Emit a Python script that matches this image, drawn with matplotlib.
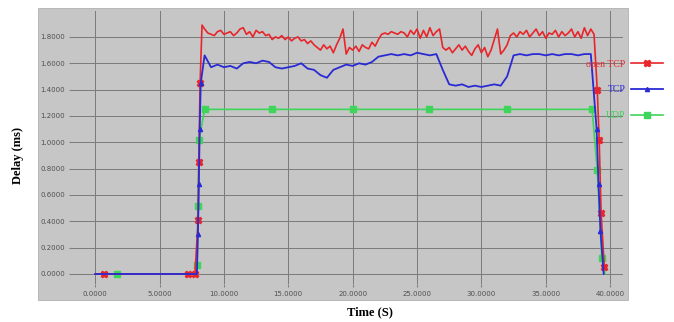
import numpy as np
import matplotlib.pyplot as plt
from matplotlib.patches import Rectangle

# open TCP (red)
red_rise_t = [0.0, 0.7, 7.2, 7.75, 8.0, 8.05, 8.15, 8.3]
red_rise_v = [0.0, 0.0, 0.0, 0.0, 0.41, 0.85, 1.45, 1.89]
red_mid_v = [1.86, 1.83, 1.82, 1.81, 1.84, 1.85, 1.82, 1.83,
             1.84, 1.81, 1.83, 1.86, 1.87, 1.82, 1.84, 1.80,
             1.85, 1.83, 1.84, 1.81, 1.82, 1.78, 1.80, 1.79,
             1.81, 1.78, 1.80, 1.77, 1.79, 1.80, 1.77, 1.78,
             1.75, 1.77, 1.74, 1.72, 1.70, 1.74, 1.71, 1.73,
             1.68, 1.74, 1.79, 1.86, 1.67, 1.72, 1.70, 1.73,
             1.69, 1.74, 1.72, 1.71, 1.76, 1.73, 1.78, 1.82,
             1.83, 1.82, 1.84, 1.83, 1.82, 1.84, 1.83, 1.80,
             1.85, 1.82, 1.86, 1.79, 1.85, 1.80, 1.87, 1.81,
             1.84, 1.86, 1.72, 1.70, 1.72, 1.68, 1.71, 1.74,
             1.70, 1.73, 1.69, 1.66, 1.71, 1.74, 1.68, 1.72,
             1.65, 1.70, 1.78, 1.86, 1.67, 1.70, 1.74, 1.81,
             1.83, 1.80, 1.84, 1.82, 1.85, 1.80, 1.83, 1.86,
             1.81, 1.84, 1.79, 1.83, 1.82, 1.85, 1.80, 1.84,
             1.81, 1.83, 1.86, 1.80, 1.84, 1.79, 1.87, 1.81,
             1.86, 1.82]
red_mid_t = list(8.5 + 0.25 * np.arange(len(red_mid_v)))
red_fall_t = [39.0, 39.15, 39.3, 39.55]
red_fall_v = [1.40, 1.02, 0.46, 0.05]

# TCP (blue)
blue_rise_t = [0.0, 7.9, 7.98, 8.05, 8.12, 8.2]
blue_rise_v = [0.0, 0.0, 0.30, 0.68, 1.10, 1.45]
blue_mid_v = [1.66, 1.57, 1.59, 1.57, 1.58, 1.56, 1.60, 1.61, 1.60, 1.62,
              1.61, 1.57, 1.56, 1.57, 1.58, 1.60, 1.56, 1.55, 1.51, 1.49,
              1.55, 1.57, 1.59, 1.58, 1.60, 1.59, 1.61, 1.65, 1.66, 1.67,
              1.66, 1.67, 1.66, 1.68, 1.67, 1.66, 1.67, 1.55, 1.44, 1.43,
              1.44, 1.42, 1.43, 1.42, 1.43, 1.44, 1.43, 1.50, 1.66, 1.67,
              1.66, 1.67, 1.67, 1.66, 1.67, 1.66, 1.67, 1.67, 1.66, 1.67,
              1.67]
blue_mid_t = list(8.5 + 0.5 * np.arange(len(blue_mid_v)))
blue_fall_t = [38.95, 39.1, 39.25, 39.5]
blue_fall_v = [1.10, 0.68, 0.33, 0.0]

# UDP (green)
green_t = [0.0, 1.7, 7.85, 7.92, 7.98, 8.08, 8.5, 13.7, 20.0, 25.9, 32.0, 38.6, 39.0, 39.35, 39.6]
green_v = [0.0, 0.0, 0.0, 0.07, 0.52, 1.02, 1.25, 1.25, 1.25, 1.25, 1.25, 1.25, 0.79, 0.12, 0.0]

yticks = [0.0, 0.2, 0.4, 0.6, 0.8, 1.0, 1.2, 1.4, 1.6, 1.8]
xticks = [0, 5, 10, 15, 20, 25, 30, 35, 40]

red_t = red_rise_t + red_mid_t + red_fall_t
red_v = red_rise_v + red_mid_v + red_fall_v
red_marks = [1, 2, 3, 4, 5, 6] + list(range(len(red_t) - 4, len(red_t)))

blue_t = blue_rise_t + blue_mid_t + blue_fall_t
blue_v = blue_rise_v + blue_mid_v + blue_fall_v
blue_marks = [2, 3, 4, 5] + list(range(len(blue_t) - 4, len(blue_t) - 1))

green_marks = [1] + list(range(3, len(green_t) - 1))

bg = '#c6c6c6'
fig = plt.figure(figsize=(6.74, 3.22), dpi=100)
fig.patches.append(Rectangle((38 / 674, 22 / 322), 590 / 674, 292 / 322,
                             transform=fig.transFigure, facecolor=bg,
                             edgecolor='#b0b0b0', lw=0.6, zorder=0))
ax = fig.add_axes([72 / 674, 38 / 322, 551 / 674, 273.4 / 322])
ax.set_zorder(2)
ax.set_facecolor(bg)
for s in ax.spines.values():
    s.set_visible(False)

ax.plot(green_t, green_v, color='#3fd45a', lw=1.2, marker='s', ms=4,
        markevery=green_marks, label='UDP', zorder=3)
ax.plot(red_t, red_v, color='#e8262a', lw=1.2, marker='X', ms=5,
        markevery=red_marks, label='open TCP', zorder=4)
ax.plot(blue_t, blue_v, color='#2a2ad4', lw=1.3, marker='^', ms=3,
        markevery=blue_marks, label='TCP', zorder=5)

ax.set_xlim(-1.8, 41.0)
ax.set_ylim(-0.076, 2.0)
ax.set_yticks(yticks)
ax.set_yticklabels(['%.4f' % v for v in yticks], fontsize=5, color='#505050')
ax.set_xticks(xticks)
ax.set_xticklabels(['%.4f' % v for v in xticks], fontsize=5, color='#505050')
ax.tick_params(length=2, color='#808080', pad=3)
ax.grid(True, color='#7a7a7a', lw=0.7)
ax.set_axisbelow(True)

fig.text(18 / 674, 1 - 155 / 322, 'Delay (ms)', rotation=90, ha='center', va='center',
         family='Liberation Serif', fontweight='bold', fontsize=9)
fig.text(370 / 674, 1 - 312 / 322, 'Time (S)', ha='center', va='center',
         family='Liberation Serif', fontweight='bold', fontsize=9)

h, l = ax.get_legend_handles_labels()
order = [1, 2, 0]
for i in range(3):
    h[i].set_markevery(None)
leg = fig.legend([h[i] for i in order], [l[i] for i in order], markerfirst=False,
                 frameon=False, loc='upper right', bbox_to_anchor=(668 / 674, 1 - 55 / 322),
                 prop={'family': 'Liberation Serif', 'size': 7}, labelcolor='linecolor',
                 handlelength=3.3, labelspacing=1.7, handletextpad=0.6, borderpad=0,
                 numpoints=1)
h[0].set_markevery(green_marks)
h[1].set_markevery(red_marks)
h[2].set_markevery(blue_marks)
leg.set_zorder(5)

fig.savefig('out.png', dpi=100)
